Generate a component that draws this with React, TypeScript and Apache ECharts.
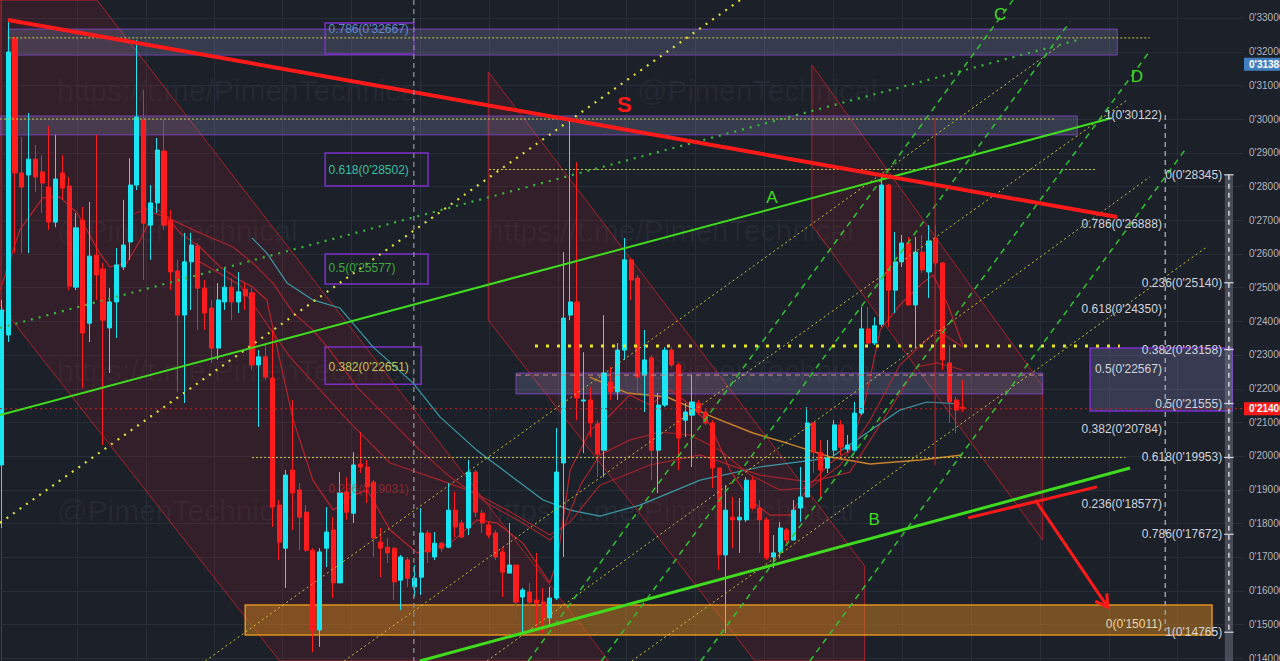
import React, { useEffect, useRef } from "react";
import * as echarts from "echarts";

// [open, close, low, high] per bar
const ohlc: number[][] = [
  [0.1973, 0.2433, 0.1786, 0.2463], [0.2359, 0.3199, 0.2338, 0.3288], [0.3238, 0.2840, 0.2602, 0.3244],
  [0.2840, 0.2798, 0.2602, 0.2947], [0.2834, 0.2881, 0.2602, 0.3018], [0.2881, 0.2828, 0.2783, 0.2923],
  [0.2843, 0.2810, 0.2721, 0.2893], [0.2798, 0.2694, 0.2671, 0.2979], [0.2694, 0.2822, 0.2679, 0.2953],
  [0.2840, 0.2795, 0.2760, 0.2893], [0.2801, 0.2504, 0.2492, 0.2828], [0.2501, 0.2677, 0.2492, 0.2721],
  [0.2700, 0.2365, 0.2201, 0.2739], [0.2394, 0.2593, 0.2338, 0.2754], [0.2596, 0.2537, 0.2463, 0.2953],
  [0.2555, 0.2403, 0.2032, 0.2573], [0.2380, 0.2457, 0.2246, 0.2498], [0.2457, 0.2567, 0.2350, 0.2617],
  [0.2561, 0.2626, 0.2552, 0.2760], [0.2635, 0.2804, 0.2582, 0.2884], [0.2804, 0.3006, 0.2789, 0.3235],
  [0.2997, 0.2691, 0.2522, 0.3086], [0.2685, 0.2751, 0.2582, 0.2804], [0.2751, 0.2908, 0.2721, 0.2944],
  [0.2905, 0.2685, 0.2671, 0.2997], [0.2700, 0.2546, 0.2492, 0.2730], [0.2549, 0.2418, 0.2190, 0.2582],
  [0.2418, 0.2576, 0.2157, 0.2662], [0.2576, 0.2626, 0.2433, 0.2662], [0.2623, 0.2498, 0.2374, 0.2632],
  [0.2498, 0.2424, 0.2374, 0.2522], [0.2439, 0.2320, 0.2276, 0.2463], [0.2320, 0.2463, 0.2285, 0.2513],
  [0.2457, 0.2501, 0.2433, 0.2558], [0.2501, 0.2457, 0.2403, 0.2528], [0.2457, 0.2487, 0.2424, 0.2546],
  [0.2495, 0.2475, 0.2433, 0.2513], [0.2484, 0.2270, 0.2255, 0.2498], [0.2270, 0.2294, 0.2086, 0.2314],
  [0.2294, 0.2234, 0.2225, 0.2329], [0.2231, 0.1848, 0.1789, 0.2374], [0.1854, 0.1744, 0.1691, 0.1869],
  [0.1726, 0.1943, 0.1608, 0.1958], [0.1958, 0.1890, 0.1780, 0.2166], [0.1899, 0.1818, 0.1720, 0.1919],
  [0.1833, 0.1720, 0.1715, 0.1854], [0.1720, 0.1483, 0.1418, 0.1726], [0.1483, 0.1715, 0.1433, 0.1726],
  [0.1726, 0.1774, 0.1670, 0.1848], [0.1780, 0.1623, 0.1578, 0.1818], [0.1623, 0.1890, 0.1623, 0.1952],
  [0.1893, 0.1833, 0.1810, 0.1937], [0.1830, 0.1973, 0.1801, 0.2011], [0.1976, 0.1967, 0.1949, 0.2071],
  [0.1967, 0.1908, 0.1860, 0.1988], [0.1922, 0.1756, 0.1700, 0.1928], [0.1744, 0.1726, 0.1640, 0.1786],
  [0.1729, 0.1712, 0.1682, 0.1756], [0.1726, 0.1626, 0.1572, 0.1729], [0.1631, 0.1700, 0.1542, 0.1706],
  [0.1691, 0.1637, 0.1611, 0.1700], [0.1611, 0.1637, 0.1581, 0.1676], [0.1640, 0.1771, 0.1587, 0.1845],
  [0.1771, 0.1715, 0.1682, 0.1780], [0.1700, 0.1741, 0.1691, 0.1774], [0.1741, 0.1726, 0.1715, 0.1744],
  [0.1729, 0.1839, 0.1726, 0.1919], [0.1839, 0.1789, 0.1759, 0.1893], [0.1801, 0.1759, 0.1756, 0.1810],
  [0.1786, 0.1952, 0.1765, 0.1988], [0.1952, 0.1833, 0.1818, 0.1958], [0.1830, 0.1801, 0.1771, 0.1839],
  [0.1795, 0.1765, 0.1756, 0.1804], [0.1771, 0.1700, 0.1691, 0.1780], [0.1715, 0.1655, 0.1581, 0.1729],
  [0.1652, 0.1676, 0.1652, 0.1801], [0.1676, 0.1566, 0.1513, 0.1676], [0.1581, 0.1602, 0.1477, 0.1608],
  [0.1596, 0.1566, 0.1477, 0.1623], [0.1572, 0.1563, 0.1483, 0.1712], [0.1566, 0.1519, 0.1474, 0.1608],
  [0.1519, 0.1578, 0.1492, 0.1611], [0.1578, 0.1952, 0.1572, 0.2083], [0.1979, 0.2409, 0.1700, 0.2605],
  [0.2418, 0.2457, 0.2403, 0.3003], [0.2457, 0.2172, 0.2106, 0.2872], [0.2163, 0.2166, 0.2008, 0.2308],
  [0.2166, 0.2098, 0.2056, 0.2204], [0.2095, 0.2005, 0.1937, 0.2106], [0.2017, 0.2246, 0.1937, 0.2418],
  [0.2219, 0.2190, 0.2166, 0.2264], [0.2190, 0.2314, 0.2166, 0.2335], [0.2314, 0.2582, 0.2285, 0.2647],
  [0.2582, 0.2522, 0.2463, 0.2587], [0.2528, 0.2234, 0.2187, 0.2537], [0.2240, 0.2285, 0.2130, 0.2374],
  [0.2291, 0.2017, 0.1928, 0.2299], [0.2017, 0.2151, 0.1890, 0.2187], [0.2151, 0.2314, 0.2145, 0.2323],
  [0.2314, 0.2270, 0.2264, 0.2323], [0.2270, 0.2053, 0.1958, 0.2276], [0.2106, 0.2130, 0.2056, 0.2157],
  [0.2121, 0.2160, 0.1967, 0.2240], [0.2157, 0.2130, 0.2121, 0.2166], [0.2130, 0.2098, 0.2092, 0.2142],
  [0.2098, 0.1964, 0.1905, 0.2106], [0.1964, 0.1706, 0.1661, 0.1964], [0.1706, 0.1839, 0.1474, 0.1913],
  [0.1818, 0.1810, 0.1726, 0.1878], [0.1810, 0.1818, 0.1712, 0.1875], [0.1810, 0.1928, 0.1804, 0.1937],
  [0.1928, 0.1845, 0.1839, 0.1937], [0.1845, 0.1810, 0.1712, 0.1869], [0.1810, 0.1697, 0.1691, 0.1818],
  [0.1700, 0.1712, 0.1667, 0.1765], [0.1715, 0.1786, 0.1697, 0.1804], [0.1780, 0.1750, 0.1741, 0.1786],
  [0.1750, 0.1839, 0.1750, 0.1869], [0.1845, 0.1878, 0.1804, 0.1967], [0.1878, 0.2098, 0.1878, 0.2145],
  [0.2098, 0.2011, 0.1949, 0.2100], [0.2011, 0.1958, 0.1878, 0.2047], [0.1964, 0.1994, 0.1949, 0.2047],
  [0.2017, 0.2092, 0.2002, 0.2106], [0.2092, 0.2026, 0.2002, 0.2106], [0.2020, 0.2032, 0.2011, 0.2062],
  [0.2017, 0.2127, 0.2011, 0.2160], [0.2127, 0.2377, 0.2121, 0.2442], [0.2377, 0.2335, 0.2323, 0.2442],
  [0.2335, 0.2386, 0.2329, 0.2412], [0.2391, 0.2804, 0.2383, 0.2834], [0.2804, 0.2492, 0.2383, 0.2807],
  [0.2492, 0.2576, 0.2424, 0.2665], [0.2576, 0.2632, 0.2561, 0.2656], [0.2632, 0.2448, 0.2448, 0.2650],
  [0.2448, 0.2605, 0.2320, 0.2650], [0.2605, 0.2552, 0.2543, 0.2656], [0.2546, 0.2638, 0.2469, 0.2685],
  [0.2647, 0.2573, 0.2561, 0.2685], [0.2573, 0.2285, 0.2255, 0.2573], [0.2276, 0.2160, 0.2098, 0.2329],
  [0.2166, 0.2136, 0.2068, 0.2175], [0.2145, 0.2140, 0.2130, 0.2225],
];

const priceTicks = [0.14, 0.15, 0.16, 0.17, 0.18, 0.19, 0.2, 0.21, 0.22, 0.23, 0.24, 0.25, 0.26, 0.27, 0.28, 0.29, 0.3, 0.31, 0.32, 0.33];
const timeGridBars = [11.15, 21.3, 31.4, 41.4, 51.6, 61.8, 72.0, 82.2, 92.2, 102.4, 112.6, 122.8, 133.0, 143.2, 153.4, 163.6, 173.6];

// moving averages: [bar, price]
const maTeal = [[37, 0.2647], [39.2, 0.2602], [42.2, 0.2513], [46, 0.2463], [50, 0.2439], [54.9, 0.2323], [60.8, 0.2216], [64.8, 0.2115], [70.2, 0.2017], [74.7, 0.1949], [80, 0.1869], [84, 0.1839], [88.4, 0.1821], [94.3, 0.1854], [103.2, 0.1928], [112, 0.1967], [122.4, 0.1994], [127.8, 0.2068], [132.7, 0.2136], [136.7, 0.216], [141.6, 0.2154]];
const maOrange = [[86.9, 0.2234], [92.4, 0.2187], [98.3, 0.2175], [105.1, 0.2115], [111, 0.2068], [116, 0.2038], [122.4, 0.1997], [128.3, 0.1976], [135.7, 0.1988], [141.9, 0.2003]];
const maFast = [[-0.2, 0.2492], [2.7, 0.2671], [6.1, 0.2766], [8.6, 0.2769], [11.2, 0.2721], [14.5, 0.2602], [16, 0.2561], [18.5, 0.2573], [20.5, 0.2641], [22.4, 0.2721], [24.4, 0.2709], [26.4, 0.2662], [29.3, 0.262], [32.3, 0.2561], [35.2, 0.2522], [37.1, 0.2501], [39.2, 0.2463], [41.1, 0.2285], [43.1, 0.2106], [46, 0.1928], [49, 0.1839], [51.5, 0.1878], [54, 0.1899], [57.4, 0.178], [61.4, 0.1712], [66.3, 0.1741], [70.2, 0.181], [73.2, 0.1801], [77, 0.1741], [81, 0.1623], [82.1, 0.1691], [84, 0.1958], [87, 0.2077], [89.9, 0.2121], [92.8, 0.2181], [95.8, 0.2151], [98.8, 0.2196], [101.7, 0.2151], [104.7, 0.2092], [107.6, 0.1958], [110.6, 0.1869], [113.5, 0.1824], [116.5, 0.1824], [119.4, 0.1913], [122.4, 0.1979], [125.3, 0.2017], [127.6, 0.2166], [129.8, 0.2374], [132.7, 0.2448], [135.7, 0.2507], [137.6, 0.2537], [139.8, 0.2448], [142, 0.2329]];
const maMid = [[19, 0.2715], [22.4, 0.2739], [25.3, 0.27], [29.3, 0.2662], [34.2, 0.262], [37.1, 0.2573], [40.1, 0.2513], [43.1, 0.2424], [46, 0.2374], [48.5, 0.2314], [52.5, 0.2204], [57.4, 0.2106], [61.8, 0.2017], [66.3, 0.1937], [72.2, 0.1854], [77, 0.1801], [81, 0.175], [83.2, 0.1795], [85.5, 0.1913], [88.4, 0.2003], [92.8, 0.2047], [97.3, 0.2071], [101.7, 0.2062], [106.1, 0.2017], [110.6, 0.1943], [115, 0.1899], [119.4, 0.1905], [123.9, 0.1973], [128.3, 0.2106], [132.7, 0.227], [138.2, 0.2374], [142, 0.2323]];
const maSlow = [[29.3, 0.2576], [35.2, 0.2507], [42.6, 0.2294], [51.5, 0.2098], [57.4, 0.1979], [64.8, 0.1928], [69.6, 0.1893], [74.7, 0.1839], [81, 0.1765], [84, 0.1804], [88.4, 0.1913], [95.8, 0.1973], [103.2, 0.2003], [112, 0.1943], [119.4, 0.1922], [125.3, 0.1952], [130.2, 0.2106], [135.2, 0.2264], [138.2, 0.2276], [142, 0.2255]];

// drawn trend lines: [bar, price] end points
const resistanceLine = [[0.96, 0.3294], [164.8, 0.2709]];
const lineA = [[-0.22, 0.2121], [164.0, 0.3003]];
const lineB = [[61.8, 0.1391], [166.7, 0.1964]];
const greenDottedLine = [[-0.22, 0.238], [159, 0.3235]];
const yellowDottedLine = [[-0.22, 0.1801], [109.1, 0.3353]];
const greenDashedLines = [
  [[77.8, 0.1391], [149.4, 0.3353]],
  [[88.6, 0.1391], [157.8, 0.3288]],
  [[103.3, 0.1391], [169.4, 0.3196]],
  [[119.4, 0.1391], [174.8, 0.2908]],
];
const yellowFanLines = [
  [[30.1, 0.1391], [156.4, 0.322]],
  [[50.6, 0.1391], [166.3, 0.3057]],
  [[71.7, 0.1391], [169.6, 0.2828]],
  [[93.1, 0.1391], [177.8, 0.2617]],
];
const thickYellowLevel = [[78.8, 0.2326], [165.2, 0.2326]];
const thinYellowLevels = [
  [[72, 0.28502], [161.8, 0.28502]],
  [[37, 0.1995], [166, 0.1995]],
  [[1, 0.3241], [169.6, 0.3241]],
  [[-0.22, 0.3], [155.6, 0.3]],
];
const lastPriceLine = [[-0.22, 0.214], [183.4, 0.214]];
const midZoneDashed = [[76, 0.224], [153.8, 0.224]];
const redVertical = [[137.9, 0.3003], [137.9, 0.1973]];
const redTarget = [[142.8, 0.1816], [161.8, 0.1908]];
const redArrow = [[152.7, 0.1869], [163.4, 0.1551]];

const channels = [
  [[-0.22, 0.3353], [14.1, 0.3353], [89.7, 0.1391], [41.1, 0.1391], [-0.22, 0.2448]],
  [[71.9, 0.314], [127.5, 0.1673], [127.5, 0.1391], [111.3, 0.1391], [71.9, 0.2403]],
  [[119.7, 0.316], [153.8, 0.2207], [153.8, 0.175], [119.7, 0.2685]],
];
// [barFrom, barTo, priceTop, priceBottom]
const purpleZones = [[1, 164.8, 0.3267, 0.319], [-0.22, 158.9, 0.3009, 0.2953], [76, 153.8, 0.2246, 0.2184]];
const rightBox = [160.8, 181.8, 0.232, 0.2133];
const supportZone = [36, 178.8, 0.1557, 0.1468];

const leftFibRatios = ["0.786", "0.618", "0.5", "0.382", "0.236"];
const leftFibPrices = [0.32667, 0.28502, 0.25577, 0.22651, 0.19031];
const leftFibBoxes = [[47.8, 60.9, 0.3285, 0.3193], [47.8, 63, 0.2899, 0.2801], [47.8, 63, 0.2599, 0.251], [47.8, 62, 0.2323, 0.2213]];
const rightFibARatios = ["1", "0.786", "0.618", "0.5", "0.382", "0.236", "0"];
const rightFibAPrices = [0.30122, 0.26888, 0.2435, 0.22567, 0.20784, 0.18577, 0.15011];
const rightFibBRatios = ["0", "0.236", "0.382", "0.5", "0.618", "0.786", "1"];
const rightFibBPrices = [0.28345, 0.2514, 0.23158, 0.21555, 0.19953, 0.17672, 0.14765];

const waveLabels = ["S", "A", "B", "C", "D"];
const waveLabelPos = [[92, 0.3042], [113.8, 0.2766], [128.9, 0.181], [147.5, 0.3309], [167.7, 0.3125]];

const tagPrices = [0.3163, 0.214];
const tagTexts = ["0'31388", "0'21400"];

const watermarkTexts = ["https://t.me/PimenTechnical", "@PimenTechnical"];

const fmtPrice = (v: number) => "0'" + String(Math.round(v * 100000)).padStart(5, "0");

const X_MIN = -0.22;
const X_MAX = 183.38;
const Y_MIN = 0.13911;
const Y_MAX = 0.33534;

function txt(x: number, y: number, text: string, fill: string, font: string, align = "left", vAlign = "middle") {
  return {
    type: "text",
    x,
    y,
    style: { text, fill, textFill: fill, font, align, textAlign: align, verticalAlign: vAlign, textVerticalAlign: vAlign },
  };
}

function lineSeries(data: number[][], color: string, width: number, type: any, z = 4) {
  return {
    type: "line",
    data,
    symbol: "none",
    showSymbol: false,
    silent: true,
    animation: false,
    z,
    lineStyle: { color, width, type },
  };
}

function buildOption() {
  const bgLayer = {
    type: "custom",
    silent: true,
    clip: false,
    z: 1,
    data: [[0, 0.2]],
    renderItem: (params: any, api: any) => {
      const cs = params.coordSys;
      const P = (k: number, p: number) => api.coord([k, p]);
      const ch: any[] = [];
      priceTicks.forEach((t) => {
        const y = Math.round(P(0, t)[1]) + 0.5;
        ch.push({ type: "line", shape: { x1: cs.x, y1: y, x2: cs.x + cs.width, y2: y }, style: { stroke: "#282d3a", lineWidth: 1 } });
      });
      timeGridBars.forEach((k) => {
        const x = Math.round(P(k, 0.2)[0]) + 0.5;
        ch.push({ type: "line", shape: { x1: x, y1: cs.y, x2: x, y2: cs.y + cs.height }, style: { stroke: "#282d3a", lineWidth: 1 } });
      });
      channels.forEach((poly) => {
        ch.push({
          type: "polygon",
          shape: { points: poly.map((pt) => P(pt[0], pt[1])) },
          style: { fill: "rgba(140,30,45,0.2)", stroke: "rgba(190,35,45,0.85)", lineWidth: 1 },
        });
      });
      const rect = (r: number[], fill: string, stroke: string, lw: number) => {
        const a = P(r[0], r[2]);
        const b = P(r[1], r[3]);
        return { type: "rect", shape: { x: a[0], y: a[1], width: b[0] - a[0], height: b[1] - a[1] }, style: { fill, stroke, lineWidth: lw } };
      };
      purpleZones.forEach((z) => ch.push(rect(z, "rgba(135,138,185,0.26)", "rgba(125,70,190,0.9)", 1)));
      ch.push(rect(rightBox, "rgba(120,120,175,0.3)", "#7a2fd0", 1.5));
      ch.push(rect(supportZone, "rgba(205,130,30,0.5)", "#e0901e", 1.5));
      leftFibBoxes.forEach((b) => ch.push(rect(b, "rgba(0,0,0,0)", "#7b2fc9", 1.5)));
      const gb1 = P(180.7, rightFibBPrices[0]);
      const gb2 = P(181.9, Y_MIN);
      ch.push({ type: "rect", shape: { x: gb1[0], y: gb1[1], width: gb2[0] - gb1[0], height: gb2[1] - gb1[1] }, style: { fill: "rgba(125,128,140,0.45)" } });
      return { type: "group", children: ch };
    },
  };

  const fgLayer = {
    type: "custom",
    silent: true,
    clip: false,
    z: 6,
    data: [[0, 0.2]],
    renderItem: (params: any, api: any) => {
      const cs = params.coordSys;
      const P = (k: number, p: number) => api.coord([k, p]);
      const ch: any[] = [];
      const dv = (k: number, p1: number, p2: number, color: string) => {
        const a = P(k, p1);
        const b = P(k, p2);
        ch.push({ type: "line", shape: { x1: a[0], y1: a[1], x2: b[0], y2: b[1] }, style: { stroke: color, lineWidth: 1.5, lineDash: [5, 4] } });
      };
      dv(60.9, Y_MAX, Y_MIN, "#7c808a");
      dv(171.9, rightFibAPrices[0], 0.148, "#9a9ea8");
      dv(181.3, rightFibBPrices[0], rightFibBPrices[6], "#d5d8de");
      rightFibBPrices.forEach((p) => {
        const a = P(180.6, p);
        const b = P(182.0, p);
        ch.push({ type: "line", shape: { x1: a[0], y1: a[1], x2: b[0], y2: b[1] }, style: { stroke: "#d5d8de", lineWidth: 1.2 } });
      });
      const s = P(redArrow[0][0], redArrow[0][1]);
      const e = P(redArrow[1][0], redArrow[1][1]);
      const dx = e[0] - s[0];
      const dy = e[1] - s[1];
      const len = Math.sqrt(dx * dx + dy * dy);
      const ux = dx / len;
      const uy = dy / len;
      const bx = e[0] - ux * 12;
      const by = e[1] - uy * 12;
      ch.push({
        type: "polyline",
        shape: { points: [[bx - uy * 7, by + ux * 7], e, [bx + uy * 7, by - ux * 7]] },
        style: { stroke: "#ff1a1a", lineWidth: 3, fill: null },
      });
      const leftColors = ["#5b8cc8", "#3bbfa0", "#3fa83f", "#c4c45a", "rgba(215,45,45,0.55)"];
      leftFibRatios.forEach((r, i) => {
        const pos = P(48.3, leftFibPrices[i]);
        ch.push(txt(pos[0], pos[1], r + "(" + fmtPrice(leftFibPrices[i]) + ")", leftColors[i], "12px Arial"));
      });
      rightFibARatios.forEach((r, i) => {
        const pos = P(171.4, rightFibAPrices[i]);
        const fill = i === 6 ? "#ead4a8" : "#d1d4dc";
        ch.push(txt(pos[0], pos[1], r + "(" + fmtPrice(rightFibAPrices[i]) + ")", fill, "12px Arial", "right"));
      });
      rightFibBRatios.forEach((r, i) => {
        const pos = P(180.3, rightFibBPrices[i]);
        ch.push(txt(pos[0], pos[1], r + "(" + fmtPrice(rightFibBPrices[i]) + ")", "#d1d4dc", "12px Arial", "right"));
      });
      waveLabels.forEach((l, i) => {
        const pos = P(waveLabelPos[i][0], waveLabelPos[i][1]);
        const isS = l === "S";
        ch.push(txt(pos[0], pos[1], l, isS ? "#ff1a1a" : "#3fdc1e", isS ? "bold 22px Arial" : "17px Arial", "center"));
      });
      tagPrices.forEach((p, i) => {
        const y = P(0, p)[1];
        const x0 = cs.x + cs.width + 1;
        ch.push({ type: "rect", shape: { x: x0, y: y - 6.5, width: 60, height: 13 }, style: { fill: i === 0 ? "#3f7fc0" : "#ff1a1a" } });
        ch.push(txt(x0 + 5, y, tagTexts[i], "#ffffff", "bold 10px Arial"));
      });
      return { type: "group", children: ch };
    },
  };

  const wm: any[] = [];
  const rows = [92, 232, 372, 512];
  rows.forEach((y, r) => {
    const even = r % 2 === 0;
    wm.push({ type: "text", left: 57, top: y - 17, silent: true, z: 0, style: { text: even ? watermarkTexts[0] : watermarkTexts[1], fill: "rgba(200,205,220,0.06)", font: "30px Arial" } });
    wm.push({ type: "text", left: even ? 637 : 487, top: y - 17, silent: true, z: 0, style: { text: even ? watermarkTexts[1] : watermarkTexts[0], fill: "rgba(200,205,220,0.06)", font: "30px Arial" } });
  });

  const series: any[] = [
    bgLayer,
    lineSeries(maTeal, "#3a9aa6", 1.2, "solid", 3),
    lineSeries(maOrange, "#c8822a", 1.5, "solid", 3),
    lineSeries(maSlow, "rgba(185,35,45,0.85)", 1.2, "solid", 3),
    lineSeries(maMid, "rgba(185,35,45,0.85)", 1.2, "solid", 3),
    lineSeries(maFast, "rgba(200,35,45,0.9)", 1.2, "solid", 3),
    {
      type: "candlestick",
      data: ohlc.map((d, i) => [i, d[0], d[1], d[2], d[3]]),
      encode: { x: 0, y: [1, 2, 3, 4] },
      barWidth: 4.6,
      silent: true,
      z: 3,
      itemStyle: { color: "#19e6f2", color0: "#ff1c1c", borderColor: "#19e6f2", borderColor0: "#ff1c1c", borderWidth: 1 },
    },
    lineSeries(lastPriceLine, "#c81e1e", 1, [2, 3], 4),
    lineSeries(midZoneDashed, "#c98a8a", 1, [5, 4], 4),
    ...thinYellowLevels.map((l) => lineSeries(l, "#c9c93a", 1, [2, 2], 4)),
    ...yellowFanLines.map((l) => lineSeries(l, "#c8c83c", 1, [2, 3], 4)),
    ...greenDashedLines.map((l) => lineSeries(l, "#33c133", 1.5, [6, 5], 4)),
    lineSeries(greenDottedLine, "#3cb83c", 2.2, [2, 6], 4),
    lineSeries(yellowDottedLine, "#e1e13a", 2.2, [2, 6], 4),
    lineSeries(thickYellowLevel, "#e6e61e", 3, [3, 8], 4),
    lineSeries(redVertical, "#d02020", 1, "solid", 4),
    lineSeries(lineA, "#3fdc1e", 2, "solid", 5),
    lineSeries(lineB, "#3fdc1e", 3, "solid", 5),
    lineSeries(resistanceLine, "#ff1a1a", 4, "solid", 5),
    lineSeries(redTarget, "#ff1a1a", 3, "solid", 5),
    lineSeries(redArrow, "#ff1a1a", 3, "solid", 5),
    fgLayer,
  ];

  return {
    animation: false,
    backgroundColor: "#1c2029",
    graphic: wm,
    grid: { left: 0, right: 37, top: 0, bottom: 0, outerBoundsMode: "none" },
    xAxis: {
      type: "value",
      min: X_MIN,
      max: X_MAX,
      axisLine: { show: false },
      axisTick: { show: false },
      axisLabel: { show: false },
      splitLine: { show: false },
    },
    yAxis: {
      type: "value",
      position: "right",
      min: Y_MIN,
      max: Y_MAX,
      axisLine: { show: true, lineStyle: { color: "#3c404c" } },
      axisTick: { show: false },
      splitLine: { show: false },
      axisLabel: {
        customValues: priceTicks,
        formatter: (v: number) => fmtPrice(v),
        color: "#b2b5be",
        fontSize: 10,
        fontFamily: "Arial",
        margin: 6,
      },
    },
    series,
  };
}

export default function App() {
  const ref = useRef<HTMLDivElement>(null);
  useEffect(() => {
    const chart = echarts.init(ref.current as HTMLDivElement, null, { renderer: "svg" });
    chart.setOption(buildOption() as any);
    return () => chart.dispose();
  }, []);
  return <div ref={ref} style={{ position: "fixed", left: 0, top: 0, width: 1280, height: 661, background: "#1c2029" }} />;
}
